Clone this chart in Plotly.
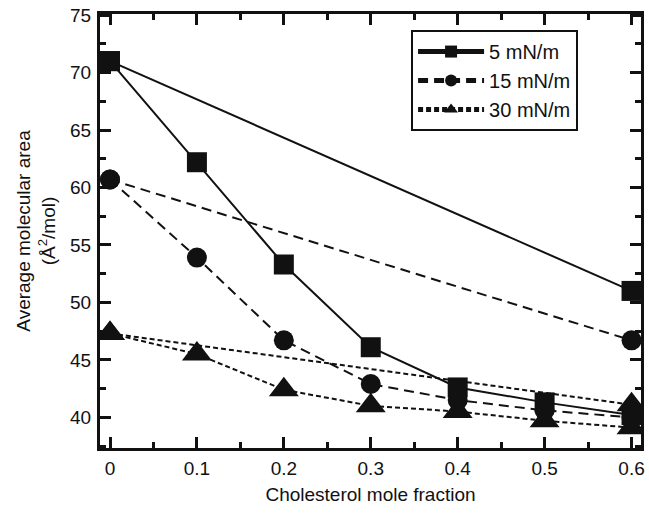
import plotly.graph_objects as go

# Data
x_frac = [0, 0.1, 0.2, 0.3, 0.4, 0.5, 0.6]
area_5 = [71.0, 62.2, 53.3, 46.1, 42.6, 41.3, 40.2]
area_15 = [60.7, 53.9, 46.7, 42.9, 41.5, 40.6, 40.0]
area_30 = [47.3, 45.5, 42.4, 41.0, 40.5, 39.7, 39.1]

ideal_x = [0, 0.6]
ideal_5 = [71.0, 51.0]
ideal_15 = [60.7, 46.7]
ideal_30 = [47.3, 41.1]

labels = ["5 mN/m", "15 mN/m", "30 mN/m"]
x_ticks = [0, 0.1, 0.2, 0.3, 0.4, 0.5, 0.6]
x_ticktext = ["0", "0.1", "0.2", "0.3", "0.4", "0.5", "0.6"]
y_ticks = [40, 45, 50, 55, 60, 65, 70, 75]

FONT = "Liberation Sans, Arial, Helvetica, sans-serif"
INK = "#111111"

series = [
    (area_5, ideal_5, labels[0], "square", 20, "solid"),
    (area_15, ideal_15, labels[1], "circle", 20, "10px,6px"),
    (area_30, ideal_30, labels[2], "triangle-up", 26, "5px,3px"),
]

fig = go.Figure()
for meas, ideal, name, sym, size, dash in series:
    fig.add_trace(go.Scatter(
        x=ideal_x, y=ideal, mode="lines+markers", showlegend=False,
        line=dict(color=INK, width=2, dash=dash),
        marker=dict(symbol=sym, size=size, color=INK),
    ))
    fig.add_trace(go.Scatter(
        x=x_frac, y=meas, mode="lines+markers", name=name,
        line=dict(color=INK, width=2, dash=dash),
        marker=dict(symbol=sym, size=size, color=INK),
    ))

axis_common = dict(
    showline=True, linecolor=INK, linewidth=3, mirror="allticks",
    ticks="inside", ticklen=11, tickwidth=2.5, tickcolor=INK,
    showgrid=False, zeroline=False, automargin=False,
    ticklabeloverflow="allow",
    tickfont=dict(family=FONT, size=19, color=INK),
)

fig.update_layout(
    width=649, height=519,
    margin=dict(l=100, r=8, t=14, b=71),
    paper_bgcolor="white", plot_bgcolor="white",
    font=dict(family=FONT, color=INK),
    xaxis=dict(
        range=[-0.0115, 0.6109], tickvals=x_ticks, ticktext=x_ticktext,
        minor=dict(dtick=0.05, tick0=0, ticks="inside", ticklen=6, tickwidth=2.5, tickcolor=INK),
        title=dict(text="Cholesterol mole fraction", font=dict(family=FONT, size=19, color=INK), standoff=10),
        ticklabelstandoff=1,
        **axis_common,
    ),
    yaxis=dict(
        range=[37.33, 75.10], tickvals=y_ticks,
        minor=dict(dtick=2.5, tick0=0, ticks="inside", ticklen=6, tickwidth=2.5, tickcolor=INK),
        title=dict(text="Average molecular area<br>(Å<sup>2</sup>/mol)", font=dict(family=FONT, size=19, color=INK), standoff=10),
        ticklabelstandoff=2,
        **axis_common,
    ),
    legend=dict(
        x=0.575, y=0.963, xanchor="left", yanchor="top",
        bordercolor=INK, borderwidth=2, bgcolor="white",
        font=dict(family=FONT, size=20, color=INK),
        itemsizing="constant", itemwidth=66,
    ),
)

fig.write_html("out.html", config={"displayModeBar": False},
               post_script="document.body.style.margin='0';")
